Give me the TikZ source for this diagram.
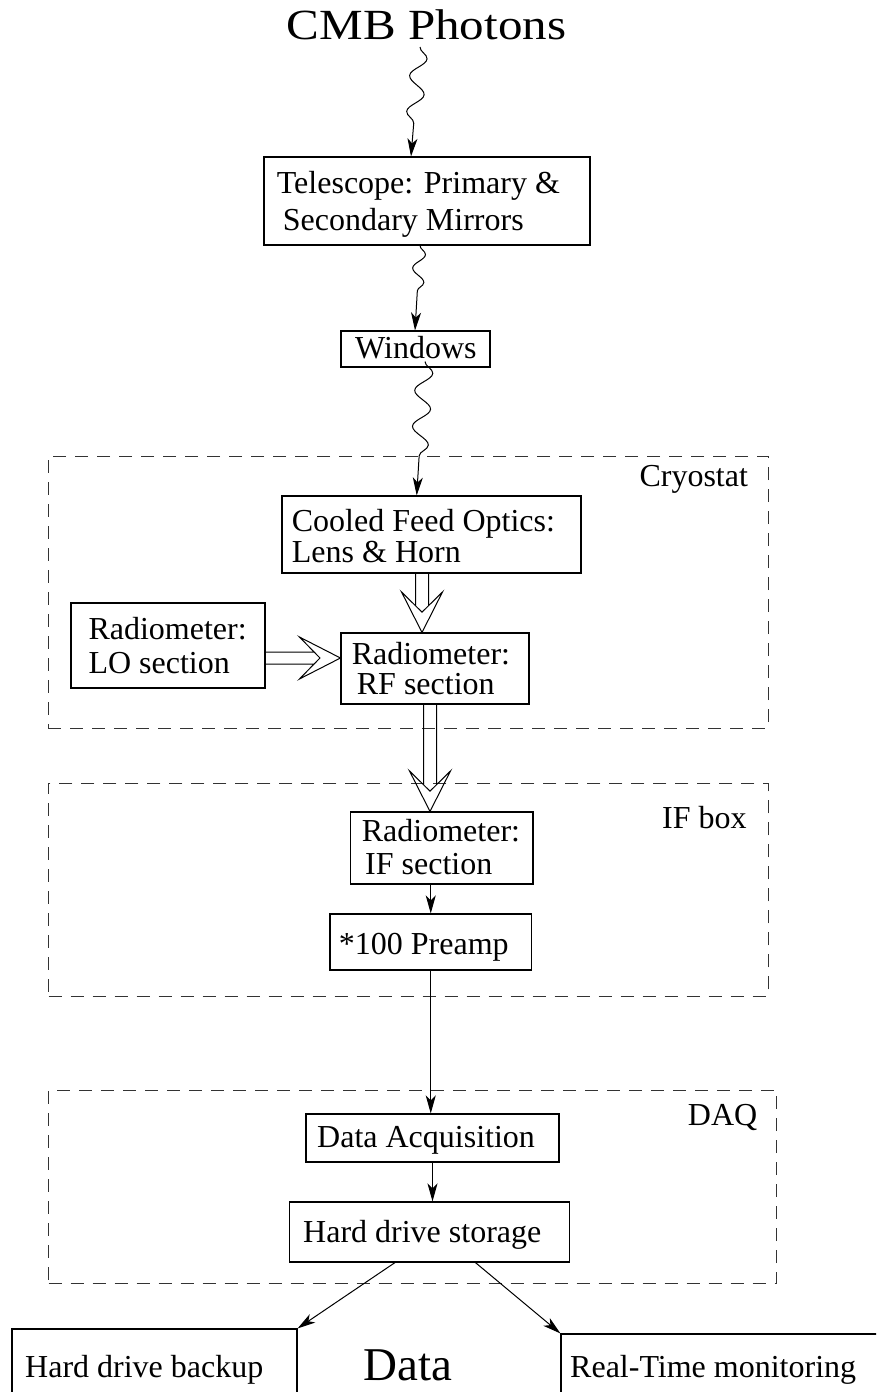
\documentclass[tikz,border=0pt]{standalone}
\usepackage{fontspec}
\setmainfont{Liberation Serif}
\usepackage{graphicx}
\usetikzlibrary{arrows.meta,calc,fit,decorations.pathmorphing}

\tikzset{
  box/.style={draw, line width=1.1pt, inner sep=0pt},
  grp/.style={draw=black!80, line width=0.9pt, dash pattern=on 13pt off 9pt, inner sep=0pt},
  txt/.style={inner sep=0pt, anchor=base west, font=\fontsize{32}{38}\selectfont},
  arr/.style={line width=1pt, -{Stealth[length=18pt,width=10pt,inset=5pt]}},
  hol/.style={line width=1pt, line join=miter},
}

\newcommand\hollowdown[2]{%
  \draw[hol] ($(#1)+(-6.5,0)$) -- ($(#2)+(-6.5,-27)$)
             ($(#1)+(6.5,0)$) -- ($(#2)+(6.5,-27)$)
             ($(#2)+(-20.5,-40.5)$) -- (#2) -- ($(#2)+(20.5,-40.5)$) -- ($(#2)+(0,-20.3)$) -- cycle;}
\newcommand\hollowright[2]{%
  \draw[hol] ($(#1)+(0,-6)$) -- ($(#2)+(-26.5,-6)$)
             ($(#1)+(0,6)$) -- ($(#2)+(-26.5,6)$)
             ($(#2)+(-41,-21)$) -- (#2) -- ($(#2)+(-41,21)$) -- ($(#2)+(-20.5,0)$) -- cycle;}

\begin{document}
\begin{tikzpicture}[x=1pt,y=-1pt]
\useasboundingbox (0,0) rectangle (876,1392);
\clip (0,0) rectangle (876,1392);

% group frames
\node[grp, fit={(48,456) (768,728)}] (cryo) {};
\node[grp, fit={(48.7,783) (768,996)}] (ifb) {};
\node[grp, fit={(48.6,1090) (776.6,1283)}] (daqb) {};
\node[txt] (cryol) at (639.3,486.7) {Cryostat};
\node[txt] (ifbl) at (662,828.3) {IF box};
\node[txt] (daql) at (687.7,1125) {DAQ};

% boxes
\node[box, fit={(264,157) (590,245)}] (tel) {};
\node[box, fit={(341,331) (490,367)}] (win) {};
\node[box, fit={(282,496) (581,573)}] (cool) {};
\node[box, fit={(71,603) (265,688)}] (lo) {};
\node[box, fit={(341,633) (529,704)}] (rf) {};
\node[box, fit={(350.5,812) (533,884)}] (ifs) {};
\node[box, fit={(330,914) (531.5,970)}] (pre) {};
\node[box, fit={(306,1114) (559,1162)}] (da) {};
\node[box, fit={(289.5,1202) (569.3,1262)}] (hds) {};
\node[box, fit={(12,1329) (297,1420)}] (hdb) {};
\node[box, fit={(561,1334) (900,1420)}] (rtm) {};

% texts
\node[txt, font=\fontsize{43}{50}\selectfont] (cmb) at (286.7,39.3) {\scalebox{1.14}[1]{CMB Photons}};
\node[txt] (tel1) at (276.7,193) {Telescope: Primary \&};
\node[txt] (tel2) at (282.7,230) {Secondary Mirrors};
\node[txt] (win1) at (355,358) {Windows};
\node[txt] (cool1) at (291.7,531) {Cooled Feed Optics:};
\node[txt] (cool2) at (291.7,562) {Lens \& Horn};
\node[txt] (lo1) at (88.3,639) {Radiometer:};
\node[txt] (lo2) at (88.3,673) {LO section};
\node[txt] (rf1) at (351.7,664) {Radiometer:};
\node[txt] (rf2) at (356.7,694) {RF section};
\node[txt] (if1) at (361.7,841) {Radiometer:};
\node[txt] (if2) at (365,874) {IF section};
\node[txt] (pre1) at (338.7,954) {*100 Preamp};
\node[txt] (da1) at (317,1147) {Data Acquisition};
\node[txt] (hds1) at (303,1242) {Hard drive storage};
\node[txt] (hdb1) at (25,1377) {Hard drive backup};
\node[txt] (rtm1) at (570,1377) {Real-Time monitoring};
\node[txt, font=\fontsize{47}{54}\selectfont] (data) at (363,1380.7) {Data};

% wavy photon paths
\coordinate (w1s) at ($(cmb.base west)+(133.3,7.7)$);
\draw[arr, decorate, decoration={snake, amplitude=8pt, segment length=36pt, post length=24pt}]
  (w1s) -- ($(tel.north)+(-16,0)$);
\draw[arr, decorate, decoration={snake, amplitude=6pt, segment length=28pt, post length=30pt}]
  ($(tel.south)+(-7,0)$) -- ($(win.north)+(-0.5,0)$);
\coordinate (w3s) at ($(win.south)+(9.5,-6)$);
\draw[arr, decorate, decoration={snake, amplitude=8.5pt, segment length=36pt, post length=30pt}]
  (w3s) -- ($(cool.north)+(-14.8,0)$);

% hollow double arrows
\coordinate (h1a) at ($(cool.south)+(-9.5,0)$);
\coordinate (h1b) at (h1a |- rf.north);
\hollowdown{h1a}{h1b}
\coordinate (h2a) at ($(lo.east)+(0,12.5)$);
\coordinate (h2b) at (h2a -| rf.west);
\hollowright{h2a}{h2b}
\coordinate (h3a) at ($(rf.south)+(-5,0)$);
\coordinate (h3b) at (h3a |- ifs.north);
\hollowdown{h3a}{h3b}

% plain arrows
\draw[arr] (ifs.south -| pre.north) -- (pre.north);
\draw[arr] (pre.south) -- (pre.south |- da.north);
\draw[arr] (da.south) -- (da.south |- hds.north);
\draw[arr] ($(hds.south)+(-34.4,0)$) -- (hdb.north east);
\draw[arr] ($(hds.south)+(46,0)$) -- (rtm.north west);
\end{tikzpicture}
\end{document}
